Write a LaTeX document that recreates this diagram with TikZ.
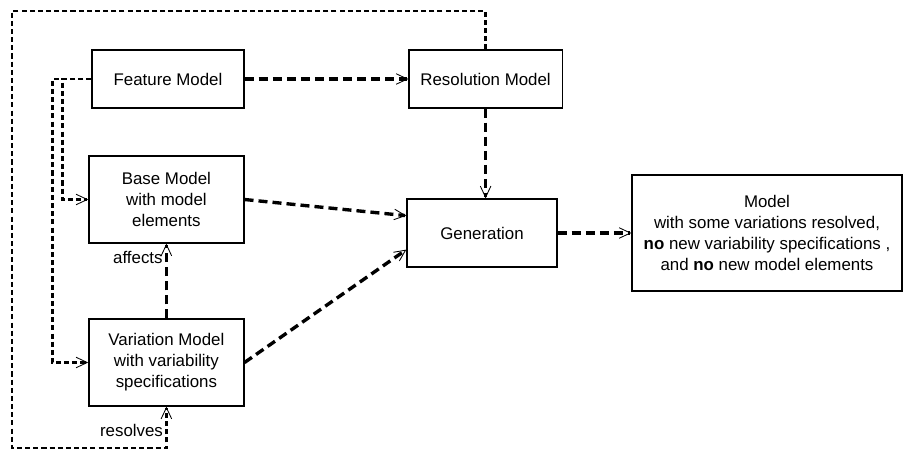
\documentclass[tikz,border=0pt]{standalone}
\usepackage{fontspec}
\setmainfont{Liberation Sans}
\usetikzlibrary{arrows.meta, calc, positioning}

\tikzset{
	box/.style={draw, line width=0.9pt, align=center, font=\fontsize{12}{15}\selectfont, inner sep=2pt},
	flow/.style={line width=2.4pt, dash pattern=on 6.4pt off 3.6pt, -{Straight Barb[length=8pt, width=7.5pt, line width=0.6pt]}},
	feedback/.style={line width=2pt, dash pattern=on 3.6pt off 2.2pt, -{Straight Barb[length=8pt, width=7.5pt, line width=0.6pt]}},
	lbl/.style={font=\fontsize{12}{15}\selectfont, inner sep=1.5pt}
}

\begin{document}
\begin{tikzpicture}
			\useasboundingbox (0, 0) rectangle (22.975, 11.25);
			\node [box, minimum width=3.8cm, minimum height=1.45cm] (feature) at (4.2, 9.275) {Feature Model};
			\node [box, minimum width=3.83cm, minimum height=1.45cm] (resolution) at (12.14, 9.275) {Resolution Model};
			\node [box, minimum width=3.875cm, minimum height=2.175cm] (base) at (4.16, 6.2625) {Base Model\\with model\\elements};
			\node [box, minimum width=3.875cm, minimum height=2.175cm] (variation) at (4.16, 2.1875) {Variation Model\\with variability\\specifications};
			\node [box, minimum width=3.75cm, minimum height=1.7cm] (generation) at (12.05, 5.425) {Generation};
			\node [box, minimum width=6.75cm, minimum height=2.9cm] (model) at (19.175, 5.425) {Model\\with some variations resolved,\\\textbf{no} new variability specifications ,\\and \textbf{no} new model elements};
			\coordinate (gen-in1) at ($(generation.north west)!0.25!(generation.south west)$);
			\coordinate (gen-in2) at ($(generation.north west)!0.74!(generation.south west)$);
			\coordinate (loop-tl) at (0.3, 10.975);
			\coordinate (loop-bl) at (0.3, 0.05);
			\draw [flow] (feature.east) -- (resolution.west);
			\draw [flow] (resolution.south) -- (resolution.south |- generation.north);
			\draw [flow] (base.east) -- (gen-in1);
			\draw [flow] (variation.east) -- (gen-in2);
			\draw [flow] (generation.east) -- (model.west);
			\draw [flow] (variation.north) -- (base.south) node [lbl, pos=0.82, left] {affects};
			\draw [feedback] (feature.west) -- ++(-0.725, 0) |- (base.west);
			\draw [feedback] (feature.west) -- ++(-0.975, 0) |- (variation.west);
			\draw [feedback] (resolution.north) |- (loop-tl) -- (loop-bl) -| (variation.south) node [lbl, pos=0.71, left] {resolves};
		\end{tikzpicture}
\end{document}
